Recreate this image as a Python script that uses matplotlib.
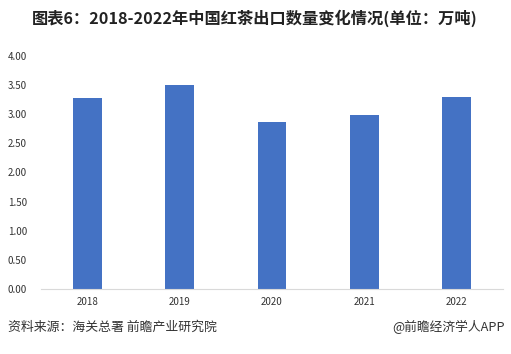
import matplotlib.pyplot as plt

plt.rcParams["font.family"] = ["Noto Sans CJK SC", "DejaVu Sans"]

years = ["2018", "2019", "2020", "2021", "2022"]
export_volume = [3.28, 3.50, 2.87, 2.99, 3.30]
y_ticks = [0.0, 0.5, 1.0, 1.5, 2.0, 2.5, 3.0, 3.5, 4.0]

fig = plt.figure(figsize=(5.11, 3.54), dpi=100)
ax = fig.add_axes([41 / 511, 1 - 289 / 354, 462 / 511, 233 / 354])

ax.bar(range(len(years)), export_volume, width=0.31, color="#4472C4")

ax.set_xlim(-0.5, len(years) - 0.5)
ax.set_ylim(0, 4)
ax.set_xticks(range(len(years)))
ax.set_xticklabels(years, fontsize=7, color="#333333")
ax.set_yticks(y_ticks)
ax.set_yticklabels([f"{v:.2f}" for v in y_ticks], fontsize=7, color="#333333")
ax.tick_params(axis="y", length=0, pad=10)
ax.tick_params(axis="x", length=0, pad=6)
for side in ("top", "right", "left"):
    ax.spines[side].set_visible(False)
ax.spines["bottom"].set_color("#d9d9d9")
ax.spines["bottom"].set_linewidth(0.8)

fig.text(255 / 511, 1 - 18 / 354, "图表6：2018-2022年中国红茶出口数量变化情况(单位：万吨)",
         ha="center", va="center", fontsize=11.7, fontweight="bold", color="#222222")
fig.text(8 / 511, 1 - 327 / 354, "资料来源：海关总署 前瞻产业研究院",
         ha="left", va="center", fontsize=9.3, color="#333333")
fig.text(505 / 511, 1 - 327 / 354, "@前瞻经济学人APP",
         ha="right", va="center", fontsize=9.2, color="#333333")

fig.savefig("out.png", dpi=100)
